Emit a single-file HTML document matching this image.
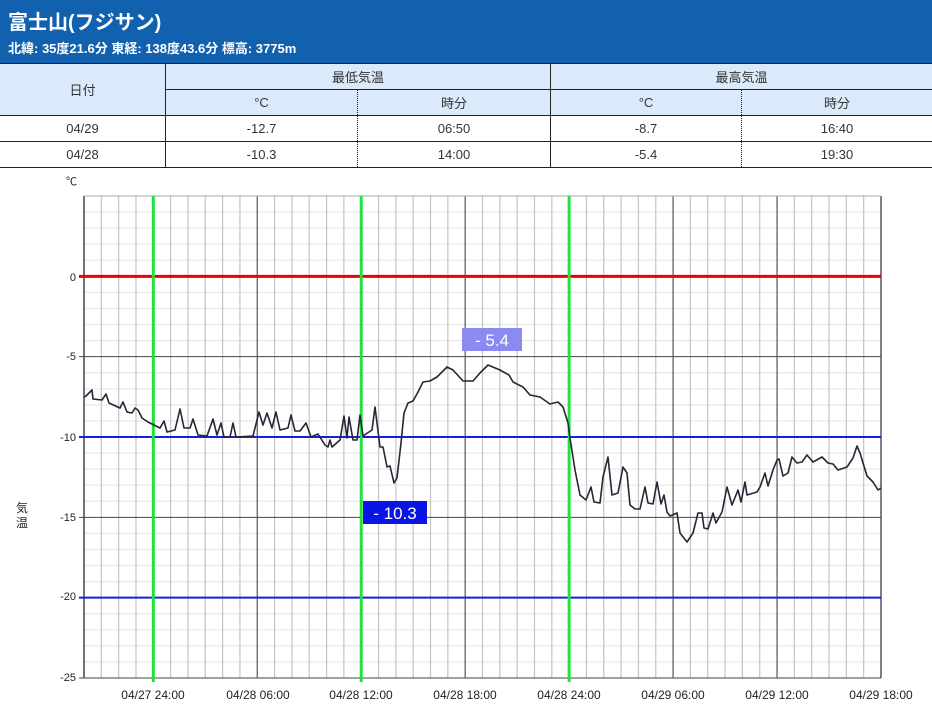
<!DOCTYPE html>
<html><head><meta charset="utf-8"><style>
body{margin:0;width:932px;height:724px;background:#fff;font-family:"Liberation Sans","Noto Sans CJK JP",sans-serif;overflow:hidden;position:relative}
.hd{position:absolute;left:0;top:0;width:932px;height:63px;background:#1161ae;color:#fff}
.t1{position:absolute;left:8px;top:6px;font-size:20px;font-weight:bold}
.t2{position:absolute;left:8px;top:38px;font-size:13px;font-weight:bold}
table{position:absolute;left:0;top:63px;width:932px;border-collapse:collapse;font-size:13px;color:#333}
td{text-align:center;border:1px solid #222;padding:0}
.h{background:#dbeafa}
.d{border-right:1px dotted #222}
.n{border-left:1px dotted #222}
</style></head><body>
<div class="hd"><div class="t1">富士山(フジサン)</div><div class="t2">北緯: 35度21.6分 東経: 138度43.6分 標高: 3775m</div></div>
<table>
<tr style="height:26px"><td class="h" rowspan="2" style="width:165px;border-left:none">日付</td><td class="h" colspan="2">最低気温</td><td class="h" colspan="2" style="border-right:none">最高気温</td></tr>
<tr style="height:26px"><td class="h d" style="width:191px">°C</td><td class="h n" style="width:192px">時分</td><td class="h d" style="width:190px">°C</td><td class="h n" style="border-right:none">時分</td></tr>
<tr style="height:26px"><td style="border-left:none">04/29</td><td class="d">-12.7</td><td class="n">06:50</td><td class="d">-8.7</td><td class="n" style="border-right:none">16:40</td></tr>
<tr style="height:26px"><td style="border-left:none">04/28</td><td class="d">-10.3</td><td class="n">14:00</td><td class="d">-5.4</td><td class="n" style="border-right:none">19:30</td></tr>
</table>
<svg id="c" width="932" height="724" style="position:absolute;left:0;top:0" font-family="Liberation Sans, Noto Sans CJK JP, sans-serif">
<g id="g"></g>
<text x="66" y="185" font-size="11" fill="#222">℃</text>
<g font-size="11" fill="#222" text-anchor="end">
<text x="76" y="281">0</text><text x="76" y="360">-5</text><text x="76" y="441">-10</text><text x="76" y="521">-15</text><text x="76" y="600">-20</text><text x="76" y="681">-25</text></g>
<text x="16" y="512" font-size="12" fill="#222">気</text><text x="16" y="527" font-size="12" fill="#222">温</text>
<g font-size="12" fill="#222" text-anchor="middle">
<text x="153" y="699">04/27 24:00</text><text x="258" y="699">04/28 06:00</text><text x="361" y="699">04/28 12:00</text><text x="465" y="699">04/28 18:00</text><text x="569" y="699">04/28 24:00</text><text x="673" y="699">04/29 06:00</text><text x="777" y="699">04/29 12:00</text><text x="881" y="699">04/29 18:00</text></g>
<polyline fill="none" stroke="#262636" stroke-width="1.6" stroke-linejoin="round" points="84,397 86,396 92,390 93,399 102,400 106,394 109,403 120,408 123,402 127,412 132,413 135,408 138,410 142,418 148,422 160,428 164,421 167,432 175,430 180,409 184,428 190,428 193,419 198,435 207,436 213,419 217,435 221,423 224,437 230,437 233,423 236,437 253,436 259,412 263,425 267,413 272,428 276,412 280,430 288,428 291,415 295,431 300,431 306,423 311,437 318,434 325,445 328,447 330,440 332,447 340,440 344,416 347,438 349,417 353,440 357,440 360,415 363,436 372,430 375,407 380,447 383,447 387,467 390,466 394,483 397,478 401,443 404,413 408,403 413,401 418,392 423,382 430,381 437,377 442,372 447,367 453,370 463,381 473,381 480,373 488,365 500,370 509,375 513,382 523,387 530,395 540,397 550,404 558,402 563,407 568,423 570,438 575,470 580,495 586,500 591,487 594,502 600,503 603,477 608,457 612,495 618,493 623,467 627,473 630,505 635,509 640,509 645,487 648,503 653,504 657,482 661,504 664,495 667,512 670,516 677,513 680,533 687,542 693,533 698,513 702,513 704,528 708,529 713,513 716,523 722,512 727,487 732,505 738,490 741,502 745,482 747,495 757,492 760,487 765,473 768,486 773,470 777,460 779,459 783,476 788,473 792,457 797,463 802,462 807,455 813,462 822,457 828,463 833,464 838,470 847,467 853,458 857,446 860,453 867,476 873,482 878,490 881,488"/>
<rect x="462" y="328" width="60" height="23" fill="#8a8af0"/><text x="492" y="346" font-size="17" fill="#fff" text-anchor="middle">- 5.4</text>
<rect x="363" y="501" width="64" height="23" fill="#0a14e6"/><text x="395" y="519" font-size="17" fill="#fff" text-anchor="middle">- 10.3</text>
</svg>
<script>
var g=document.getElementById('g'),s='';
var L=84,R=881,T=196,B=678;
function ln(x1,y1,x2,y2,c,w){s+='<line x1="'+x1+'" y1="'+y1+'" x2="'+x2+'" y2="'+y2+'" stroke="'+c+'" stroke-width="'+w+'"/>';}
var dy=(B-T)/30;
for(var i=0;i<=30;i++){var y=T+i*dy;if(i%5)ln(L,y,R,y,'#e8e8e8',1.2);}
var dx=(R-L)/46;
for(var i=0;i<=46;i++){var x=L+i*dx;if((i-4)%6!=0&&i!=0&&i!=46)ln(x,T,x,B,'#c4c4c4',1.2);}
for(var i=5;i<=30;i+=5){var y=T+i*dy;ln(L-5,y,R,y,'#444',1);}
for(var i=10;i<=46;i+=6){var x=L+i*dx;ln(x,T,x,B,'#555',1.2);}
ln(L,T,L,B,'#444',1.5);ln(R,T,R,B,'#444',1.2);ln(L,T,R,T,'#aaa',1);
ln(L-5,T+5*dy,R,T+5*dy,'#e00',3);
ln(L-5,T+15*dy,R,T+15*dy,'#1420dd',2);ln(L-5,T+25*dy,R,T+25*dy,'#1420dd',2);
[4,16,28].forEach(function(i){var x=L+i*dx;ln(x,T,x,B+4,'#22e040',3);});
g.innerHTML=s;
</script>
</body></html>
